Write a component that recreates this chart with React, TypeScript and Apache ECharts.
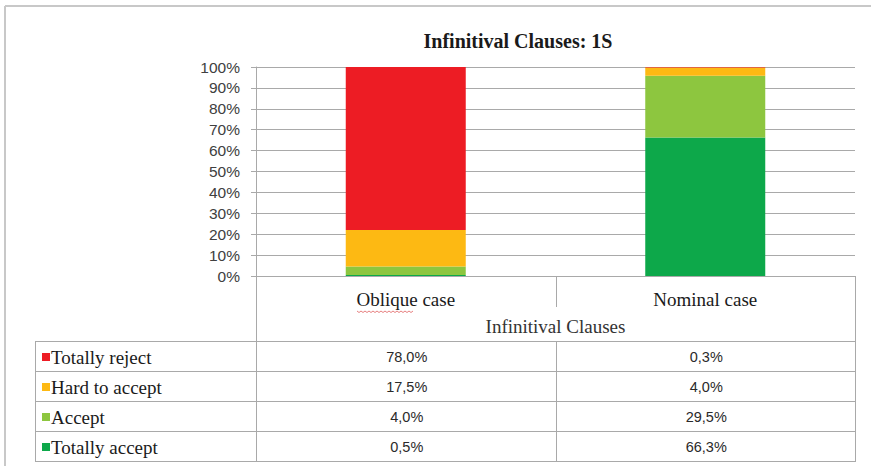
import React, { useEffect, useRef } from "react";
import * as echarts from "echarts";

const categories = ["Oblique case", "Nominal case"];
const seriesNames = ["Totally reject", "Hard to accept", "Accept", "Totally accept"];
const totallyReject = [78.0, 0.3];
const hardToAccept = [17.5, 4.0];
const accept = [4.0, 29.5];
const totallyAccept = [0.5, 66.3];
const seriesColors = ["#ED1C24", "#FDB913", "#8DC63F", "#0DA84A"];
const titleText = "Infinitival Clauses: 1S";
const axisTitle = "Infinitival Clauses";

const W = 871;
const H = 466;
const gridLeft = 256;
const gridRight = 855;
const gridTop = 67;
const gridBottom = 276;
const headerBottom = 341;
const rowH = 30;
const tableLeft = 35;
const lineColor = "#a9a9a9";
const serif = "'Liberation Serif', 'DejaVu Serif', serif";
const sans = "'Liberation Sans', Arial, sans-serif";

const fmt = (v: number) => v.toFixed(1).replace(".", ",") + "%";

export default function App() {
  const ref = useRef<HTMLDivElement>(null);
  useEffect(() => {
    if (!ref.current) return;
    const chart = echarts.init(ref.current, undefined, { renderer: "svg" });
    const allValues = [totallyReject, hardToAccept, accept, totallyAccept];
    const colW = (gridRight - gridLeft) / categories.length;
    const tableBottom = headerBottom + rowH * seriesNames.length;

    const graphics: any[] = [];
    const ln = (x1: number, y1: number, x2: number, y2: number, stroke = lineColor, lw = 1) =>
      graphics.push({ type: "line", silent: true, shape: { x1, y1, x2, y2 }, style: { stroke, lineWidth: lw } });

    // outer frame
    ln(5, 6, W, 6, "#c8c8c8", 2);
    ln(5, 6, 5, H, "#c8c8c8", 2);

    // table lines
    ln(gridLeft + 0.5, gridBottom, gridLeft + 0.5, tableBottom);
    ln(gridRight + 0.5, gridBottom, gridRight + 0.5, tableBottom);
    ln(tableLeft + 0.5, headerBottom, tableLeft + 0.5, tableBottom);
    for (let i = 1; i < categories.length; i++) {
      const x = Math.round(gridLeft + i * colW) + 0.5;
      ln(x, gridBottom, x, 307);
      ln(x, headerBottom, x, tableBottom);
    }
    for (let r = 0; r <= seriesNames.length; r++) {
      const y = headerBottom + r * rowH + 0.5;
      ln(tableLeft, y, gridRight + 1, y);
    }

    // spell-check squiggle under "Oblique"
    const squiggle: number[][] = [];
    for (let k = 0; k <= 28; k++) squiggle.push([357 + k * 2, 311 + (k % 2 === 0 ? 0 : 1.5)]);
    graphics.push({
      type: "polyline",
      silent: true,
      shape: { points: squiggle },
      style: { stroke: "#e06060", lineWidth: 0.8, fill: "none" },
    });

    // rows
    seriesNames.forEach((name, r) => {
      const cy = headerBottom + r * rowH + rowH / 2 + 1;
      graphics.push({
        type: "rect",
        silent: true,
        shape: { x: 42, y: cy - 4, width: 8, height: 8 },
        style: { fill: seriesColors[r] },
      });
      graphics.push({
        type: "text",
        silent: true,
        style: {
          text: name,
          x: 51,
          y: cy,
          fill: "#1a1a1a",
          fontFamily: serif,
          fontSize: 19,
          textAlign: "left",
          textVerticalAlign: "middle",
        },
      });
      allValues[r].forEach((v, c) => {
        graphics.push({
          type: "text",
          silent: true,
          style: {
            text: fmt(v),
            x: gridLeft + (c + 0.5) * colW + 1,
            y: cy,
            fill: "#2a2a2a",
            fontFamily: sans,
            fontSize: 14.5,
            textAlign: "center",
            textVerticalAlign: "middle",
          },
        });
      });
    });

    const stackOrder = [3, 2, 1, 0];
    const series = stackOrder.map((i) => ({
      name: seriesNames[i],
      type: "bar",
      stack: "total",
      data: allValues[i],
      barWidth: 120,
      itemStyle: { color: seriesColors[i] },
      clip: true,
    }));

    chart.setOption({
      animation: false,
      backgroundColor: "#ffffff",
      title: {
        text: titleText,
        left: 513,
        top: 26,
        textAlign: "center",
        textStyle: { fontFamily: serif, fontWeight: "bold", fontSize: 20, color: "#1a1a1a" },
      },
      grid: { left: gridLeft, right: W - gridRight, top: gridTop, bottom: H - gridBottom, containLabel: false },
      xAxis: {
        type: "category",
        data: categories,
        axisLine: { show: true, lineStyle: { color: lineColor } },
        axisTick: { show: false },
        axisLabel: { margin: 14, fontFamily: serif, fontSize: 19, color: "#1a1a1a" },
        name: axisTitle,
        nameLocation: "middle",
        nameGap: 41,
        nameTextStyle: { fontFamily: serif, fontSize: 19, color: "#333333" },
      },
      yAxis: {
        type: "value",
        min: 0,
        max: 100,
        interval: 10,
        axisLine: { show: true, lineStyle: { color: lineColor } },
        axisTick: { show: true, length: 5, lineStyle: { color: lineColor } },
        axisLabel: { margin: 16, formatter: "{value}%", fontFamily: sans, fontSize: 15.5, color: "#404040" },
        splitLine: { show: true, lineStyle: { color: lineColor } },
      },
      series,
      graphic: graphics,
    });
    return () => chart.dispose();
  }, []);
  return <div ref={ref} style={{ position: "fixed", left: 0, top: 0, width: W, height: H }} />;
}
